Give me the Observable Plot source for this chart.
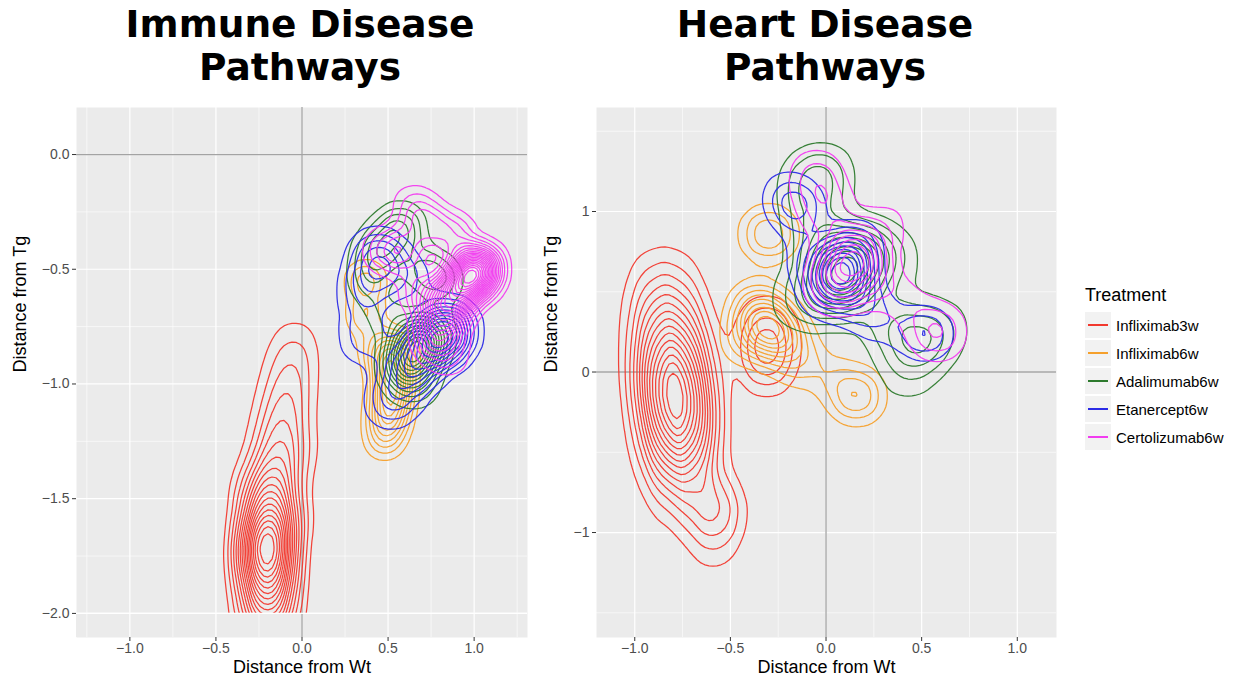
<!DOCTYPE html>
<html><head><meta charset="utf-8">
<script src="https://cdn.jsdelivr.net/npm/d3@7"></script>
<script src="https://cdn.jsdelivr.net/npm/@observablehq/plot@0.6"></script>
<style>
body{margin:0;background:#fff;width:1238px;height:681px;overflow:hidden;position:relative;font-family:"Liberation Sans",Arial,sans-serif;}
.title{position:absolute;top:3px;font-family:"DejaVu Sans",sans-serif;font-weight:bold;font-size:37.5px;line-height:43px;text-align:center;color:#000;}
.panel{position:absolute;top:95px;}
#legend{position:absolute;left:1085px;top:285px;}
#legend .lt{font-size:18px;color:#000;margin-bottom:5px;}
#legend .row{display:flex;align-items:center;height:28px;}
#legend .key{width:26px;height:26px;background:#F2F2F2;position:relative;margin-right:5px;}
#legend .key i{position:absolute;left:3px;right:3px;top:12px;height:2px;}
#legend .lab{font-size:15px;color:#000;}
</style></head><body>
<div class="title" style="left:50px;width:500px;">Immune Disease<br>Pathways</div>
<div class="title" style="left:575px;width:500px;">Heart Disease<br>Pathways</div>
<div class="panel" id="left" style="left:0px;"></div>
<div class="panel" id="right" style="left:540px;"></div>
<div id="legend"></div>
<script>
const treatments = ["Infliximab3w","Infliximab6w","Adalimumab6w","Etanercept6w","Certolizumab6w"];
const colors = ["#F2392E","#F5A02C","#2D7A2D","#2B2BE6","#F23CF0"];

// Immune panel: estimated sample points [x, y, weight]
const immuneInfliximab3w = [
  [-0.035,-0.75,0.6],[-0.04,-0.8,1.0],[-0.05,-0.85,1.2],[-0.06,-0.9,1.4],[-0.07,-0.95,1.6],[-0.08,-1.0,1.8],
  [-0.09,-1.05,2.0],[-0.1,-1.1,2.2],[-0.11,-1.15,2.4],[-0.12,-1.2,2.5],[-0.13,-1.25,2.7],[-0.14,-1.3,3.0],
  [-0.15,-1.35,3.4],[-0.16,-1.4,4.0],[-0.17,-1.45,4.7],[-0.18,-1.5,5.5],[-0.19,-1.55,6.5],[-0.195,-1.6,7.5],
  [-0.2,-1.65,9],[-0.2,-1.7,10],[-0.2,-1.75,9.5],[-0.2,-1.8,8.5],[-0.2,-1.85,7.5],[-0.2,-1.9,6.5],
  [-0.2,-1.95,5.5],[-0.2,-2.0,4.5],[-0.2,-2.05,3.5],[-0.2,-2.1,2.5],[-0.2,-2.15,1.5],
  [-0.3,-1.45,1.5],[-0.3,-1.75,1.5],[0.0,-1.3,1.0],[-0.02,-1.6,1.2]];
const immuneInfliximab6w = [[0.52,-0.95,3],[0.52,-1.05,3],[0.5,-1.15,2.5],[0.48,-1.25,1.2],[0.54,-0.85,2],[0.37,-0.55,1.5],[0.37,-0.7,1.3],[0.43,-0.85,1]];
const immuneAdalimumab6w = [[0.66,-0.85,4],[0.6,-0.92,2.5],[0.72,-0.78,2.5],[0.65,-1.0,1.5],[0.45,-0.42,2.2],[0.57,-0.32,2],[0.4,-0.55,1.2],[0.8,-0.55,1.3],[0.7,-0.5,1.2],[0.5,-0.7,1]];
const immuneEtanercept6w = [[0.84,-0.77,4],[0.74,-0.85,2.5],[0.62,-0.95,2],[0.52,-1.08,1.3],[0.44,-0.45,2],[0.37,-0.6,1.4],[0.37,-0.8,1.2],[0.6,-0.55,1]];
const immuneCertolizumab6w = [[1.02,-0.5,6],[0.95,-0.55,4],[0.88,-0.62,3.5],[0.82,-0.7,3],[0.78,-0.8,2],[0.7,-0.6,1.5],[0.6,-0.42,1.5],[0.48,-0.42,1.2],[0.72,-0.3,1.5],[0.88,-0.35,1.5],[0.65,-0.22,0.9],[0.85,-0.88,0.8]];
const immuneBandwidths = [16,11,14,16,13];
const immuneThresholds = [19,10,13,12,21];

// Heart panel: estimated sample points [x, y, weight]
const heartInfliximab3w = [
  [-0.92,0.75,0.35],[-0.78,0.75,0.35],
  [-0.92,0.65,0.7],[-0.78,0.65,0.7],[-0.915,0.55,1.1],[-0.775,0.55,1.1],[-0.905,0.45,1.7],[-0.765,0.45,1.7],
  [-0.9,0.35,2.3],[-0.76,0.35,2.3],[-0.89,0.25,3.0],[-0.75,0.25,3.0],[-0.88,0.15,3.8],[-0.74,0.15,3.8],
  [-0.875,0.05,4.5],[-0.735,0.05,4.5],[-0.87,-0.05,5.0],[-0.73,-0.05,5.0],[-0.86,-0.15,5.2],[-0.72,-0.15,5.2],
  [-0.85,-0.25,5.0],[-0.71,-0.25,5.0],[-0.845,-0.35,4.5],[-0.705,-0.35,4.5],[-0.84,-0.45,3.7],[-0.7,-0.45,3.7],
  [-0.83,-0.55,2.8],[-0.69,-0.55,2.8],[-0.825,-0.65,1.9],[-0.685,-0.65,1.9],[-0.82,-0.75,1.2],[-0.68,-0.75,1.2],
  [-0.81,-0.85,0.7],[-0.67,-0.85,0.7],[-0.8,-0.95,0.4],[-0.66,-0.95,0.4],
  [-0.57,-0.78,2.4],[-0.57,-0.9,2.4],[-0.58,-1.02,1.5],[-0.59,-1.13,0.8],[-0.6,-1.22,0.35],
  [-0.31,0.36,1.5],[-0.31,0.26,2.4],[-0.31,0.16,2.9],[-0.31,0.06,2.4],[-0.31,-0.04,1.5]];
const heartInfliximab6w = [[-0.3,0.28,3],[-0.36,0.4,2],[-0.22,0.2,2],[-0.42,0.2,1.2],[-0.15,0.05,1],[-0.3,0.86,2.2],[0.16,-0.15,2.2],[0.02,-0.02,0.6]];
const heartAdalimumab6w = [[0.1,0.62,5],[0.02,0.5,3],[0.18,0.75,3],[-0.05,0.85,2.2],[-0.08,1.15,2],[0.0,1.25,1.2],[0.5,0.2,2.5],[0.32,0.3,1.5],[0.35,0.7,1.3],[-0.15,0.45,1.3],[0.42,-0.02,1.1],[0.62,0.3,0.8]];
const heartEtanercept6w = [[0.07,0.65,4.5],[0.12,0.55,2.5],[0.0,0.5,2],[0.15,0.78,2],[0.2,0.4,1.3],[-0.1,0.7,1.2],[-0.15,1.02,2.2],[-0.22,1.12,0.8],[0.52,0.24,2.2],[0.3,0.3,0.8]];
const heartCertolizumab6w = [[0.14,0.73,4],[0.05,0.55,2.5],[0.22,0.6,1.5],[0.0,1.0,1.5],[-0.05,1.22,1.5],[0.58,0.25,2],[0.4,0.45,0.8],[0.3,0.9,1]];
const heartBandwidths = [17,16,20,16,17];
const heartThresholds = [16,10,11,11,9];

// Axes
const immuneXDomain = [-1.31,1.31], immuneYDomain = [-2.105,0.205];
const immuneXTicks = [-1,-0.5,0,0.5,1];
const immuneXMinor = [-1.25,-0.75,-0.25,0.25,0.75,1.25];
const immuneYTicks = [0,-0.5,-1,-1.5,-2];
const immuneYMinor = [-0.25,-0.75,-1.25,-1.75];
const heartXDomain = [-1.2,1.205], heartYDomain = [-1.654,1.648];
const heartXTicks = [-1,-0.5,0,0.5,1];
const heartXMinor = [-0.75,-0.25,0.25,0.75];
const heartYTicks = [1,0,-1];
const heartYMinor = [1.5,0.5,-0.5,-1.5];

function panel(o) {
  const grid = (y1, y2) => [
    Plot.ruleX(o.xMinor,{y1, y2, stroke:"#fff",strokeWidth:0.6}),
    Plot.ruleX(o.xTicks,{y1, y2, stroke:"#fff",strokeWidth:1.2}),
    Plot.ruleX([0],{y1, y2, stroke:"#A3A3A3",strokeWidth:1.3})
  ];
  const marks = [
    Plot.frame({fill:"#EBEBEB", stroke:null}),
    Plot.ruleY(o.yMinor,{stroke:"#fff",strokeWidth:0.6}),
    Plot.ruleY(o.yTicks,{stroke:"#fff",strokeWidth:1.2}),
    ...grid(o.yDomain[0], o.yDomain[1]),
    Plot.ruleY([0],{stroke:"#A3A3A3",strokeWidth:1.3})
  ];
  o.groups.forEach((pts,i)=>{
    marks.push(Plot.density(pts,{x:d=>d[0],y:d=>d[1],weight:d=>d[2],bandwidth:o.bw[i],thresholds:o.th[i],stroke:colors[i],strokeWidth:1.25,strokeOpacity:0.95,clip:true}));
  });
  if (o.cutY != null) {
    // density estimated only within the data range: hide below the lowest break
    marks.push(Plot.rect([o.cutY],{x1:o.xDomain[0],x2:o.xDomain[1],y1:o.yDomain[0],y2:d=>d,fill:"#EBEBEB"}));
    marks.push(...grid(o.yDomain[0], o.cutY));
    marks.push(Plot.ruleY([o.cutY],{stroke:"#fff",strokeWidth:1.2}));
  }
  marks.push(Plot.axisX(o.xTicks,{tickSize:4,tickFormat:()=>"",stroke:"#333",label:null}));
  marks.push(Plot.axisY(o.yTicks,{tickSize:4,tickFormat:()=>"",stroke:"#333",label:null}));
  marks.push(Plot.text(o.xTicks,{x:d=>d,text:o.xFormat,frameAnchor:"bottom",dy:15,fontSize:14,fill:"#4D4D4D"}));
  marks.push(Plot.text(o.yTicks,{y:d=>d,text:o.yFormat,frameAnchor:"left",dx:-7,textAnchor:"end",fontSize:14,fill:"#4D4D4D"}));
  marks.push(Plot.text(["Distance from Wt"],{text:d=>d,frameAnchor:"bottom",dy:35,fontSize:18,fill:"#000"}));
  marks.push(Plot.text(["Distance from Tg"],{text:d=>d,frameAnchor:"left",dx:-o.yLabelOffset,rotate:-90,fontSize:18,fill:"#000"}));
  return Plot.plot({
    width:o.width, height:586, marginTop:12, marginBottom:44, marginLeft:o.marginLeft, marginRight:o.marginRight,
    style:{fontFamily:"Liberation Sans, Arial, sans-serif", background:"transparent"},
    x:{domain:o.xDomain}, y:{domain:o.yDomain},
    marks
  });
}

document.getElementById("left").append(panel({
  groups:[immuneInfliximab3w,immuneInfliximab6w,immuneAdalimumab6w,immuneEtanercept6w,immuneCertolizumab6w],
  bw:immuneBandwidths, th:immuneThresholds,
  xDomain:immuneXDomain, yDomain:immuneYDomain, cutY:-2,
  xTicks:immuneXTicks, xMinor:immuneXMinor, yTicks:immuneYTicks, yMinor:immuneYMinor,
  xFormat:d3.format(".1f"), yFormat:d3.format(".1f"),
  width:540, marginLeft:76, marginRight:13, yLabelOffset:56
}));
document.getElementById("right").append(panel({
  groups:[heartInfliximab3w,heartInfliximab6w,heartAdalimumab6w,heartEtanercept6w,heartCertolizumab6w],
  bw:heartBandwidths, th:heartThresholds,
  xDomain:heartXDomain, yDomain:heartYDomain,
  xTicks:heartXTicks, xMinor:heartXMinor, yTicks:heartYTicks, yMinor:heartYMinor,
  xFormat:d3.format(".1f"), yFormat:d3.format("d"),
  width:540, marginLeft:56, marginRight:24, yLabelOffset:45
}));

const lg = document.getElementById("legend");
const t = document.createElement("div"); t.className="lt"; t.textContent="Treatment"; lg.append(t);
treatments.forEach((name,i)=>{
  const r=document.createElement("div"); r.className="row";
  r.innerHTML=`<div class="key"><i style="background:${colors[i]}"></i></div><div class="lab">${name}</div>`;
  lg.append(r);
});
</script>
</body></html>
